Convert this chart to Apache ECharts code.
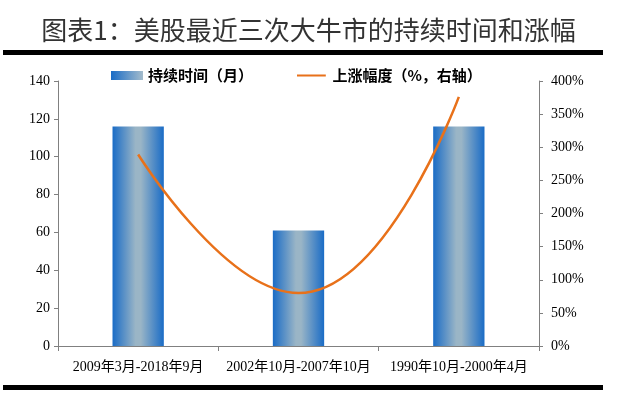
<!DOCTYPE html>
<html><head><meta charset="utf-8">
<script src="https://cdn.jsdelivr.net/npm/echarts@6/dist/echarts.min.js"></script>
<style>html,body{margin:0;padding:0;background:#fff}#c{width:617px;height:394px}</style>
</head><body><div id="c"></div>
<script>
const titleText = '图表1：美股最近三次大牛市的持续时间和涨幅';
const categories = ['2009年3月-2018年9月', '2002年10月-2007年10月', '1990年10月-2000年4月'];
const durationMonths = [116, 61, 116];
const gainPct = [289, 80, 376];
const seriesNames = ['持续时间（月）', '上涨幅度（%，右轴）'];
const leftTicks = [0, 140, 20];
const rightTicks = [0, 400, 50];

const chart = echarts.init(document.getElementById('c'), null, {renderer: 'canvas'});
const serif = '"Liberation Serif", "Times New Roman", "Noto Sans CJK SC", serif';
const barGrad = new echarts.graphic.LinearGradient(0, 0, 1, 0, [
  {offset: 0, color: '#1a6cc6'},
  {offset: 0.45, color: '#9ab5c6'},
  {offset: 0.55, color: '#9ab5c6'},
  {offset: 1, color: '#1a6cc6'}
]);
const legendGrad = new echarts.graphic.LinearGradient(0, 0, 1, 0, [
  {offset: 0, color: '#1a6cc6'},
  {offset: 1, color: '#a4bccc'}
]);
chart.setOption({
  animation: false,
  title: {
    text: titleText, left: 'center', top: 12,
    textStyle: {fontFamily: '"Noto Sans CJK SC"', fontWeight: 'normal', fontSize: 26, color: '#333'}
  },
  graphic: [
    {type: 'rect', shape: {x: 3, y: 50, width: 600, height: 5}, style: {fill: '#000'}},
    {type: 'rect', shape: {x: 3, y: 385, width: 600, height: 5}, style: {fill: '#000'}}
  ],
  legend: {
    top: 63, left: 106, itemGap: 44, itemWidth: 32, itemHeight: 9,
    textStyle: {fontFamily: '"Noto Sans CJK SC"', fontWeight: 'bold', fontSize: 15, color: '#000'},
    data: [
      {name: seriesNames[0], icon: 'rect', itemStyle: {color: legendGrad}},
      {name: seriesNames[1], icon: 'path://M0,0L1,0L1,0Z M0,4H32V6H0Z M0,10L1,10L1,10Z', itemStyle: {color: '#e8711a'}}
    ]
  },
  grid: {left: 58, right: 78, top: 81, bottom: 48},
  xAxis: {
    type: 'category', data: categories, boundaryGap: true,
    axisLine: {lineStyle: {color: '#808080', width: 1}},
    axisTick: {show: true, length: 5, lineStyle: {color: '#808080'}},
    axisLabel: {fontFamily: serif, fontSize: 14, color: '#000', margin: 14, interval: 0}
  },
  yAxis: [
    {
      type: 'value', min: leftTicks[0], max: leftTicks[1], interval: leftTicks[2],
      axisLine: {show: true, lineStyle: {color: '#808080'}},
      axisTick: {show: true, length: 4, lineStyle: {color: '#808080'}},
      splitLine: {show: false},
      axisLabel: {fontFamily: serif, fontSize: 14, color: '#000', margin: 8}
    },
    {
      type: 'value', min: rightTicks[0], max: rightTicks[1], interval: rightTicks[2],
      axisLine: {show: true, lineStyle: {color: '#808080'}},
      axisTick: {show: true, length: 4, lineStyle: {color: '#808080'}},
      splitLine: {show: false},
      axisLabel: {fontFamily: serif, fontSize: 14, color: '#000', margin: 12, formatter: '{value}%'}
    }
  ],
  series: [
    {
      name: seriesNames[0], type: 'bar', yAxisIndex: 0, data: durationMonths,
      barWidth: '32%', itemStyle: {color: barGrad}
    },
    {
      name: seriesNames[1], type: 'line', yAxisIndex: 1, data: gainPct,
      smooth: 0.5, symbol: 'none', lineStyle: {color: '#e8711a', width: 2.5},
      itemStyle: {color: '#e8711a'}
    }
  ]
});
</script></body></html>
